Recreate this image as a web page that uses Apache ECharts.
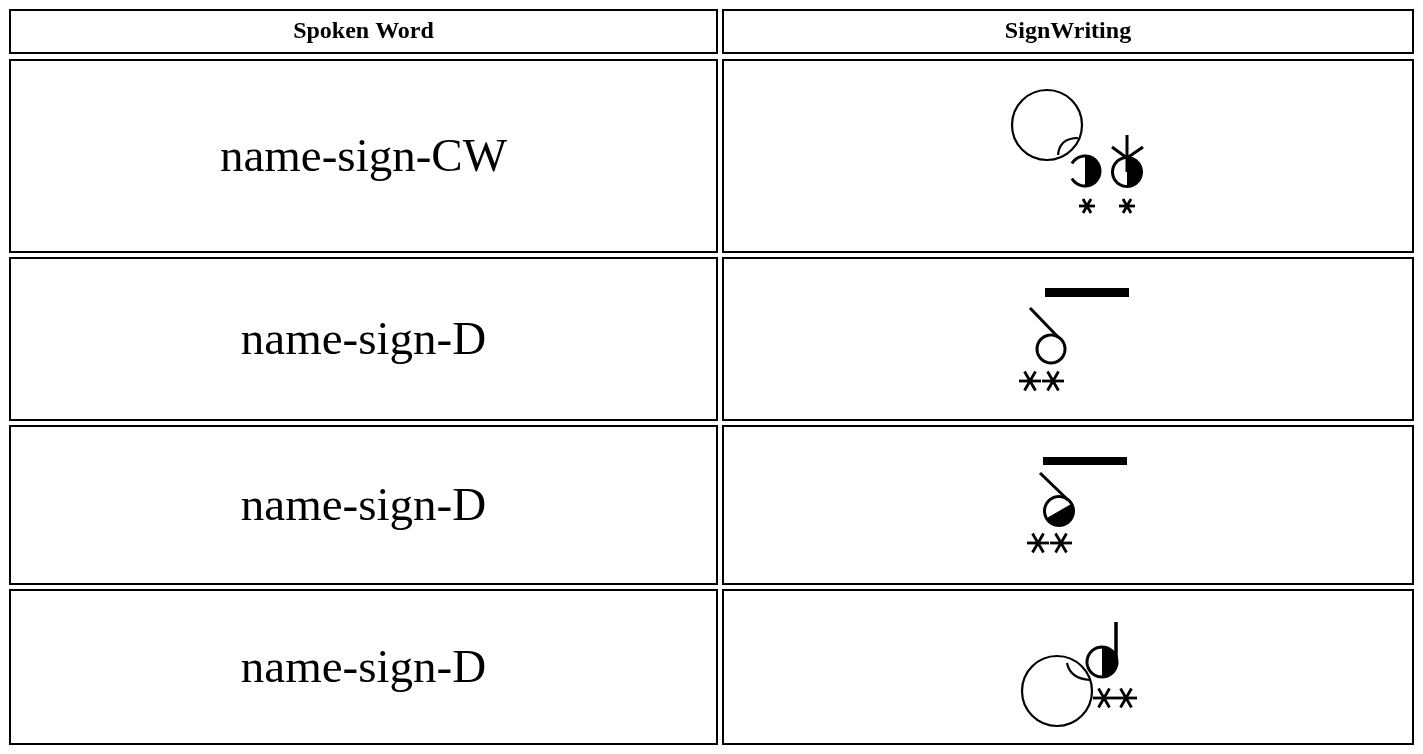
<!DOCTYPE html>
<html>
<head>
<meta charset="utf-8">
<script src="https://cdn.jsdelivr.net/npm/echarts@6/dist/echarts.min.js"></script>
<style>
  html, body { margin: 0; padding: 0; background: #ffffff; }
  #chart { width: 1423px; height: 754px; }
</style>
</head>
<body>
<div id="chart"></div>
<script>
// ---------------- data ----------------
const headerLabels = ['Spoken Word', 'SignWriting'];
const spokenWords = ['name-sign-CW', 'name-sign-D', 'name-sign-D', 'name-sign-D'];
const signKeys = ['CW', 'D-open', 'D-half', 'D-head'];

// ---------------- layout (page units == pixels) ----------------
const PAGE_W = 1423, PAGE_H = 754;
const COL_EDGES = [[9, 718], [722, 1414]];
const ROW_EDGES = [[9, 54], [59, 253], [257, 421], [425, 585], [589, 745]];
const HEADER_FONT = 'bold 24px "Liberation Serif", "Times New Roman", serif';
const BODY_FONT = '47px "Liberation Serif", "Times New Roman", serif';
const BODY_TEXT_SHIFT = 3;
const STAR_W = 2.8;

// glyph primitives, offsets relative to the SignWriting cell centre
const GLYPHS = {
  'CW': [
    { t: 'circle', x: -21, y: -31, r: 35, w: 2.2 },
    { t: 'lens', x1: -10, y1: -1, cx: -8.6, cy: -17.9, x2: 10, y2: -18, w: 2.2 },
    { t: 'half', x: 17, y: 15, r: 15, a0: -90, a1: 90 },
    { t: 'arc', x: 17, y: 15, r: 15, a0: -150, a1: 150, w: 3 },
    { t: 'half', x: 59, y: 16, r: 14.5, a0: -90, a1: 90 },
    { t: 'arc', x: 59, y: 16, r: 14.5, a0: 0, a1: 360, w: 3 },
    { t: 'line', x1: 59, y1: -21, x2: 59, y2: 16, w: 3 },
    { t: 'line', x1: 44, y1: -9, x2: 59, y2: 2, w: 3 },
    { t: 'line', x1: 75, y1: -9, x2: 59, y2: 2, w: 3 },
    { t: 'star', x: 19, y: 50, r: 8 },
    { t: 'star', x: 59, y: 50, r: 8 }
  ],
  'D-open': [
    { t: 'bar', x1: -23, y1: -51, x2: 61, y2: -42 },
    { t: 'line', x1: -38, y1: -31, x2: -10, y2: -2, w: 3 },
    { t: 'arc', x: -17, y: 10, r: 14, a0: 0, a1: 360, w: 3 },
    { t: 'star', x: -38, y: 42, r: 11 },
    { t: 'star', x: -15, y: 42, r: 11 }
  ],
  'D-half': [
    { t: 'bar', x1: -25, y1: -48, x2: 59, y2: -40 },
    { t: 'line', x1: -28, y1: -32, x2: 0, y2: -5, w: 3 },
    { t: 'half', x: -9, y: 6, r: 14.5, a0: -30, a1: 150 },
    { t: 'arc', x: -9, y: 6, r: 14.5, a0: 0, a1: 360, w: 3 },
    { t: 'star', x: -30, y: 38, r: 11 },
    { t: 'star', x: -7, y: 38, r: 11 }
  ],
  'D-head': [
    { t: 'circle', x: -11, y: 24, r: 35, w: 2.2 },
    { t: 'lens', x1: -1, y1: -4, cx: 1.9, cy: 11.5, x2: 22, y2: 13, w: 2.2 },
    { t: 'half', x: 34, y: -5, r: 15, a0: -90, a1: 90 },
    { t: 'arc', x: 34, y: -5, r: 15, a0: 0, a1: 360, w: 3 },
    { t: 'line', x1: 48, y1: -45, x2: 48, y2: -5, w: 3.5 },
    { t: 'star', x: 36, y: 31, r: 11 },
    { t: 'star', x: 58, y: 31, r: 11 }
  ]
};

// ---------------- series data built from the arrays ----------------
const cellData = [];
headerLabels.forEach((lab, c) => cellData.push({ value: [0, c], name: lab }));
spokenWords.forEach((w, i) => {
  cellData.push({ value: [i + 1, 0], name: w });
  cellData.push({ value: [i + 1, 1], name: '' });
});
const glyphData = signKeys.map((k, i) => ({ value: [i + 1, 1], name: k }));

function cellCenter(r, c) {
  return [(COL_EDGES[c][0] + COL_EDGES[c][1]) / 2, (ROW_EDGES[r][0] + ROW_EDGES[r][1]) / 2];
}

function renderCell(params, api) {
  const r = api.value(0), c = api.value(1);
  const item = cellData[params.dataIndex];
  const a = api.coord([COL_EDGES[c][0] + 1, ROW_EDGES[r][0] + 1]);
  const b = api.coord([COL_EDGES[c][1] - 1, ROW_EDGES[r][1] - 1]);
  const children = [{
    type: 'rect',
    shape: { x: a[0], y: a[1], width: b[0] - a[0], height: b[1] - a[1] },
    style: { fill: 'none', stroke: '#000', lineWidth: 2 }
  }];
  if (item.name) {
    const cc = cellCenter(r, c);
    const ctr = api.coord([cc[0], cc[1] + (r === 0 ? 0 : BODY_TEXT_SHIFT)]);
    children.push({
      type: 'text',
      style: {
        text: item.name, x: ctr[0], y: ctr[1],
        align: 'center', verticalAlign: 'middle',
        textAlign: 'center', textVerticalAlign: 'middle',
        font: r === 0 ? HEADER_FONT : BODY_FONT, fill: '#000'
      }
    });
  }
  return { type: 'group', children };
}

function renderGlyph(params, api) {
  const r = api.value(0), c = api.value(1);
  const key = glyphData[params.dataIndex].name;
  const [cx, cy] = cellCenter(r, c);
  const P = (dx, dy) => api.coord([cx + dx, cy + dy]);
  const children = [];
  const rad = d => d * Math.PI / 180;
  GLYPHS[key].forEach(g => {
    if (g.t === 'circle') {
      const p = P(g.x, g.y), q = P(g.x + g.r, g.y);
      children.push({ type: 'circle', shape: { cx: p[0], cy: p[1], r: q[0] - p[0] },
        style: { fill: 'none', stroke: '#000', lineWidth: g.w } });
    } else if (g.t === 'arc' || g.t === 'half') {
      const pts = [];
      const n = 48;
      for (let i = 0; i <= n; i++) {
        const th = rad(g.a0 + (g.a1 - g.a0) * i / n);
        pts.push(P(g.x + g.r * Math.cos(th), g.y + g.r * Math.sin(th)));
      }
      if (g.t === 'half') {
        children.push({ type: 'polygon', shape: { points: pts }, style: { fill: '#000', stroke: 'none' } });
      } else {
        children.push({ type: 'polyline', shape: { points: pts },
          style: { fill: 'none', stroke: '#000', lineWidth: g.w } });
      }
    } else if (g.t === 'lens') {
      const p1 = P(g.x1, g.y1), p2 = P(g.x2, g.y2), cp = P(g.cx, g.cy);
      children.push({ type: 'bezierCurve',
        shape: { x1: p1[0], y1: p1[1], x2: p2[0], y2: p2[1], cpx1: cp[0], cpy1: cp[1] },
        style: { fill: 'none', stroke: '#000', lineWidth: g.w } });
    } else if (g.t === 'line') {
      const p1 = P(g.x1, g.y1), p2 = P(g.x2, g.y2);
      children.push({ type: 'line', shape: { x1: p1[0], y1: p1[1], x2: p2[0], y2: p2[1] },
        style: { stroke: '#000', lineWidth: g.w } });
    } else if (g.t === 'bar') {
      const p1 = P(g.x1, g.y1), p2 = P(g.x2, g.y2);
      children.push({ type: 'rect', shape: { x: p1[0], y: p1[1], width: p2[0] - p1[0], height: p2[1] - p1[1] },
        style: { fill: '#000' } });
    } else if (g.t === 'star') {
      [0, 60, 120].forEach(d => {
        const th = rad(d);
        const p1 = P(g.x - g.r * Math.cos(th), g.y - g.r * Math.sin(th));
        const p2 = P(g.x + g.r * Math.cos(th), g.y + g.r * Math.sin(th));
        children.push({ type: 'line', shape: { x1: p1[0], y1: p1[1], x2: p2[0], y2: p2[1] },
          style: { stroke: '#000', lineWidth: STAR_W } });
      });
    }
  });
  return { type: 'group', children };
}

const chart = echarts.init(document.getElementById('chart'), null, { renderer: 'canvas' });
chart.setOption({
  animation: false,
  backgroundColor: '#ffffff',
  grid: { left: 0, right: 0, top: 0, bottom: 0 },
  xAxis: { type: 'value', min: 0, max: PAGE_W, show: false },
  yAxis: { type: 'value', min: 0, max: PAGE_H, inverse: true, show: false },
  series: [
    { type: 'custom', name: 'cells', data: cellData, renderItem: renderCell, silent: true },
    { type: 'custom', name: 'signwriting', data: glyphData, renderItem: renderGlyph, silent: true }
  ]
});
</script>
</body>
</html>
